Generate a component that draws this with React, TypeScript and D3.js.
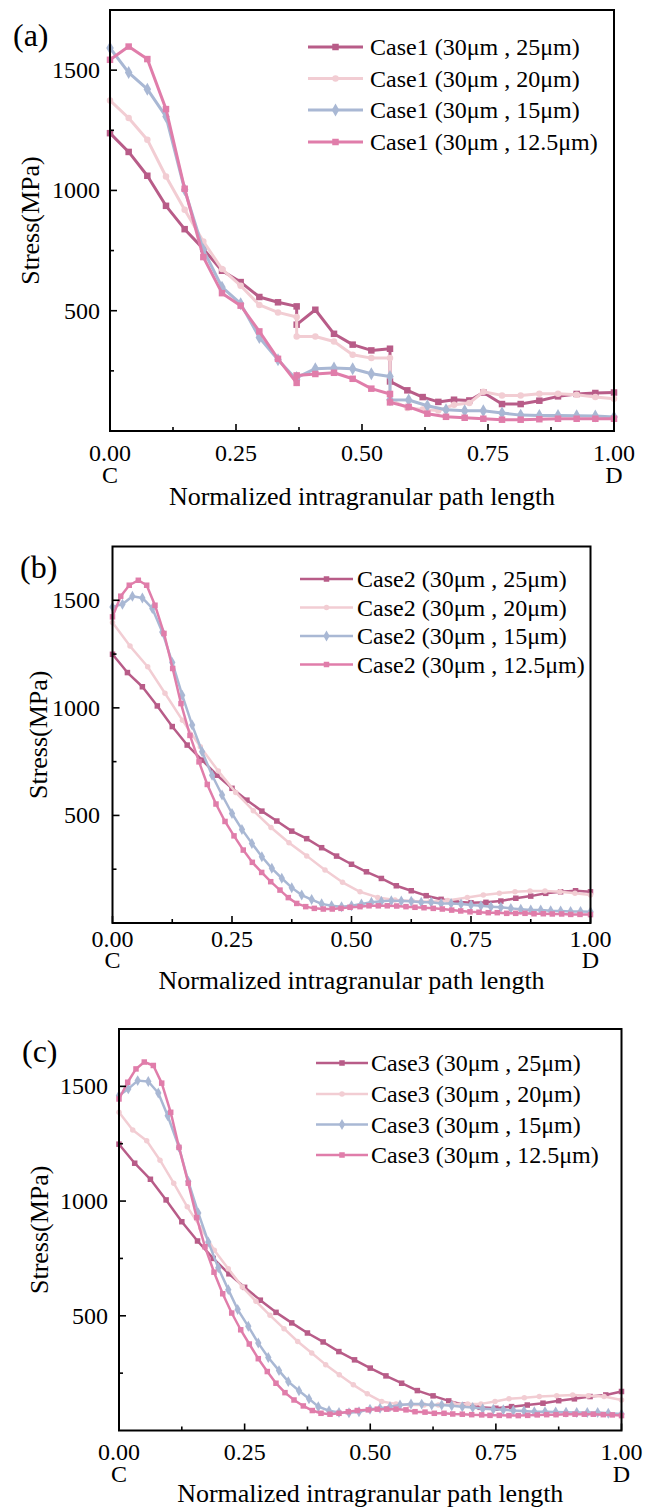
import React from 'react';
import * as d3 from 'd3';

// ---------- labels ----------
const CASES = ['Case1', 'Case2', 'Case3'];
const PANEL_TAGS = ['(a)', '(b)', '(c)'];
const GRAIN_SIZES = ['25μm', '20μm', '15μm', '12.5μm'];
const X_TICKS = [0, 0.25, 0.5, 0.75, 1];
const X_TICK_LABELS = ['0.00', '0.25', '0.50', '0.75', '1.00'];
const X_MINOR = [0.125, 0.375, 0.625, 0.875];
const Y_TICKS = [500, 1000, 1500];
const Y_MINOR = [250, 750, 1250];
const Y_DOMAIN = [0, 1750];
const PATH_ENDS = ['C', '', '', '', 'D'];
const X_TITLE = 'Normalized intragranular path length';
const Y_TITLE = 'Stress(MPa)';

// ---------- panel (a): node positions in 1/27 of the path ----------
const A_POS_FINE = [0, 1, 2, 3, 4, 5, 6, 7, 8, 9, 10, 10, 11, 12, 13, 14, 15, 15, 16, 17, 18, 19, 20, 21, 22, 23, 24, 25, 26, 27];
const A_POS_COARSE = [0, 1, 2, 3, 4, 5, 6, 7, 8, 9, 10, 10, 11, 12, 13, 14, 15, 15, 15.93, 16.75, 17.59, 18.43, 19.25, 20, 21, 22, 23, 24, 25, 26, 27];
const A_25 = [1238, 1160, 1061, 936, 839, 757, 666, 619, 557, 535, 518, 442, 504, 404, 359, 335, 342, 206, 169, 141, 121, 130, 127, 160, 112, 112, 126, 144, 154, 158, 160];
const A_20 = [1374, 1301, 1211, 1058, 920, 788, 673, 604, 524, 493, 474, 393, 393, 372, 317, 303, 303, 130, 96, 89, 85, 109, 116, 163, 148, 148, 155, 155, 151, 141, 134];
const A_15 = [1592, 1490, 1421, 1307, 1003, 753, 598, 529, 389, 296, 213, 222, 259, 262, 259, 238, 227, 130, 129, 105, 88, 84, 84, 75, 66, 64, 64, 63, 62, 58];
const A_125 = [1543, 1598, 1546, 1338, 1007, 723, 573, 521, 414, 300, 200, 231, 237, 242, 217, 176, 154, 119, 100, 72, 59, 55, 51, 47, 47, 49, 51, 51, 51, 51];

// ---------- panel (b) ----------
const B_25 = [1249, 1164, 1098, 1009, 913, 827, 757, 687, 626, 571, 520, 474, 427, 392, 350, 311, 273, 238, 207, 173, 150, 127, 110, 99, 94, 96, 102, 115, 125, 138, 145, 150, 145];
const B_20_X = [0, 0.0366, 0.0736, 0.1098, 0.1464, 0.1837, 0.2213, 0.2577, 0.2946, 0.3316, 0.3692, 0.4063, 0.4446, 0.4812, 0.5178, 0.5548, 0.591, 0.6272, 0.6642, 0.7013, 0.7423, 0.7757, 0.8092, 0.8421, 0.8734, 0.9048, 0.9362, 0.9676, 1];
const B_20 = [1397, 1287, 1191, 1068, 942, 819, 706, 607, 522, 444, 373, 312, 246, 189, 145, 119, 107, 102, 99, 105, 119, 130, 138, 145, 149, 149, 145, 138, 130];
const B_15 = [1469, 1482, 1519, 1511, 1462, 1353, 1211, 1059, 920, 796, 687, 595, 509, 435, 370, 308, 254, 208, 164, 130, 109, 89, 80, 76, 80, 88, 96, 101, 104, 102, 101, 96, 96, 91, 91, 88, 84, 80, 76, 73, 68, 64, 60, 60, 57, 56, 54, 54, 52];
const B_125_X = [0, 0.0172, 0.0351, 0.054, 0.0715, 0.0889, 0.1077, 0.1259, 0.1433, 0.1621, 0.181, 0.1983, 0.2165, 0.2354, 0.2542, 0.2736, 0.2925, 0.3121, 0.331, 0.3504, 0.3678, 0.3854, 0.4042, 0.4222, 0.441, 0.4598, 0.478, 0.4969, 0.5178, 0.5366, 0.5561, 0.5749, 0.5946, 0.614, 0.6328, 0.6517, 0.6711, 0.69, 0.7096, 0.7285, 0.7479, 0.7667, 0.7862, 0.805, 0.8247, 0.8435, 0.863, 0.8818, 0.9013, 0.9201, 0.9397, 0.9586, 0.978, 1];
const B_125 = [1423, 1519, 1570, 1593, 1570, 1477, 1346, 1183, 1020, 872, 749, 644, 553, 472, 405, 339, 282, 235, 192, 153, 118, 91, 76, 68, 65, 65, 68, 73, 76, 80, 80, 80, 79, 76, 73, 71, 68, 65, 60, 56, 52, 50, 48, 48, 45, 45, 45, 43, 43, 42, 42, 40, 40, 39];

// ---------- panel (c) ----------
const C_25 = [1248, 1165, 1095, 1005, 910, 826, 750, 683, 624, 568, 515, 469, 425, 386, 344, 308, 272, 238, 206, 174, 151, 129, 111, 101, 97, 104, 111, 119, 130, 138, 148, 155, 170];
const C_20_X = [0, 0.0273, 0.0551, 0.0816, 0.1089, 0.1359, 0.1626, 0.1897, 0.2175, 0.2454, 0.2726, 0.3005, 0.3284, 0.3556, 0.3835, 0.4113, 0.4384, 0.4663, 0.4941, 0.5228, 0.5512, 0.5791, 0.607, 0.6354, 0.6653, 0.6939, 0.7204, 0.7483, 0.7761, 0.8066, 0.8364, 0.871, 0.9029, 0.9339, 0.9652, 1];
const C_20 = [1387, 1310, 1263, 1178, 1078, 975, 884, 786, 705, 626, 563, 502, 444, 388, 338, 287, 243, 199, 160, 126, 116, 111, 111, 111, 116, 115, 116, 126, 138, 143, 148, 152, 155, 151, 148, 133];
const C_15_X = [0, 0.0185, 0.0372, 0.0583, 0.0782, 0.0969, 0.1194, 0.1379, 0.1578, 0.1777, 0.1976, 0.2175, 0.2362, 0.2573, 0.2772, 0.2971, 0.3184, 0.3369, 0.3582, 0.3781, 0.3966, 0.4179, 0.4378, 0.4577, 0.4776, 0.4995, 0.5194, 0.5393, 0.5592, 0.5811, 0.6024, 0.6223, 0.6422, 0.6621, 0.6832, 0.7039, 0.7238, 0.7449, 0.7648, 0.7847, 0.806, 0.8265, 0.8478, 0.869, 0.8896, 0.9109, 0.9319, 0.9526, 0.9737, 1];
const C_15 = [1460, 1489, 1525, 1521, 1471, 1372, 1234, 1086, 948, 822, 709, 614, 527, 454, 381, 318, 261, 213, 173, 138, 104, 86, 79, 77, 82, 93, 97, 104, 111, 116, 115, 111, 111, 108, 104, 100, 95, 93, 90, 87, 85, 82, 82, 81, 80, 78, 78, 78, 75, 72];
const C_125_X = [0, 0.0173, 0.0338, 0.0503, 0.0683, 0.085, 0.1029, 0.1194, 0.1379, 0.1546, 0.1711, 0.1891, 0.2064, 0.2243, 0.2422, 0.2593, 0.2772, 0.2951, 0.3124, 0.3303, 0.3483, 0.3668, 0.3847, 0.402, 0.4199, 0.4378, 0.4563, 0.4742, 0.4961, 0.514, 0.5327, 0.5512, 0.5711, 0.5891, 0.609, 0.6275, 0.6468, 0.6641, 0.6832, 0.7019, 0.7218, 0.7383, 0.7568, 0.7761, 0.7946, 0.8133, 0.8324, 0.8511, 0.8697, 0.8889, 0.9075, 0.926, 0.9439, 0.9638, 0.9817, 1];
const C_125 = [1445, 1518, 1576, 1606, 1591, 1514, 1387, 1234, 1078, 928, 801, 690, 596, 512, 439, 377, 313, 257, 206, 165, 133, 107, 87, 75, 71, 75, 82, 87, 90, 93, 93, 93, 90, 82, 80, 75, 75, 72, 71, 69, 68, 66, 66, 65, 65, 66, 68, 69, 69, 71, 71, 71, 71, 69, 68, 65];

// ---------- styles ----------
const FONT = 'Liberation Serif, Times New Roman, Times, serif';
const COLORS = ['#B85C88', '#F2CDD3', '#A9B8D4', '#E07DAA'];
const SHAPES = [d3.symbolSquare, d3.symbolCircle, d3.symbolDiamond, d3.symbolSquare];

const uniform = (n: number) => d3.range(n).map((i) => i / (n - 1));
const per27 = (a: number[]) => a.map((v) => v / 27);

const PANEL_DATA = [
  [
    { x: per27(A_POS_COARSE), y: A_25 },
    { x: per27(A_POS_COARSE), y: A_20 },
    { x: per27(A_POS_FINE), y: A_15 },
    { x: per27(A_POS_FINE), y: A_125 },
  ],
  [
    { x: uniform(B_25.length), y: B_25 },
    { x: B_20_X, y: B_20 },
    { x: uniform(B_15.length), y: B_15 },
    { x: B_125_X, y: B_125 },
  ],
  [
    { x: uniform(C_25.length), y: C_25 },
    { x: C_20_X, y: C_20 },
    { x: C_15_X, y: C_15 },
    { x: C_125_X, y: C_125 },
  ],
];

const LAYOUTS = [
  { left: 110, right: 614, top: 10, bottom: 431, lw: 3, mk: 6.5, tagX: 13, tagY: 46, tickBase: 461, endGap: 22, titleBase: 505, yLabX: 100, yTitleX: 38.5,
    leg: { x1: 308, x2: 363, tx: 370, rows: [47, 78.5, 110, 142] } },
  { left: 112.5, right: 590.5, top: 546.5, bottom: 923, lw: 2.5, mk: 5.5, tagX: 20, tagY: 578, tickBase: 947, endGap: 21, titleBase: 989, yLabX: 100, yTitleX: 47,
    leg: { x1: 300, x2: 353, tx: 357, rows: [579, 607.5, 636, 664.5] } },
  { left: 119, right: 621.5, top: 1029, bottom: 1430.5, lw: 2.5, mk: 5.5, tagX: 22, tagY: 1062, tickBase: 1460, endGap: 21.5, titleBase: 1501.5, yLabX: 108, yTitleX: 48,
    leg: { x1: 316, x2: 368, tx: 371, rows: [1063, 1094, 1124.5, 1155] } },
];

function markerPath(k: number, s: number) {
  const shape = SHAPES[k];
  let area = s * s;
  if (shape === d3.symbolCircle) area = (Math.PI * s * s) / 4;
  if (shape === d3.symbolDiamond) area = s * s * 1.15;
  return d3.symbol(shape, area)() as string;
}

function Panel({ idx }: { idx: number }) {
  const L = LAYOUTS[idx];
  const data = PANEL_DATA[idx];
  const x = d3.scaleLinear().domain([0, 1]).range([L.left, L.right]);
  const y = d3.scaleLinear().domain(Y_DOMAIN).range([L.bottom, L.top]);
  const line = d3
    .line<[number, number]>()
    .x((d) => x(d[0]))
    .y((d) => y(d[1]));
  const major = 7;
  const minor = 4;
  return (
    <g>
      {data.map((s, k) => {
        const pts = s.y.map((v, i) => [s.x[i], v] as [number, number]);
        const mp = markerPath(k, L.mk);
        return (
          <g key={k}>
            <path d={line(pts) as string} fill="none" stroke={COLORS[k]} strokeWidth={L.lw} strokeLinejoin="round" />
            {pts.map((p, i) => (
              <path key={i} d={mp} transform={`translate(${x(p[0])},${y(p[1])})`} fill={COLORS[k]} />
            ))}
          </g>
        );
      })}
      <rect x={L.left} y={L.top} width={L.right - L.left} height={L.bottom - L.top} fill="none" stroke="#000" strokeWidth={2} />
      {X_TICKS.map((t, i) => (
        <g key={'xt' + i}>
          <line x1={x(t)} x2={x(t)} y1={L.bottom} y2={L.bottom - major} stroke="#000" strokeWidth={1.6} />
          <text x={x(t)} y={L.tickBase} textAnchor="middle" fontSize={24} fontFamily={FONT}>
            <tspan x={x(t)}>{X_TICK_LABELS[i]}</tspan>
            {PATH_ENDS[i] ? (
              <tspan x={x(t)} dy={L.endGap}>
                {PATH_ENDS[i]}
              </tspan>
            ) : null}
          </text>
        </g>
      ))}
      {X_MINOR.map((t, i) => (
        <line key={'xm' + i} x1={x(t)} x2={x(t)} y1={L.bottom} y2={L.bottom - minor} stroke="#000" strokeWidth={1.6} />
      ))}
      {Y_TICKS.map((t, i) => (
        <g key={'yt' + i}>
          <line x1={L.left} x2={L.left + major} y1={y(t)} y2={y(t)} stroke="#000" strokeWidth={1.6} />
          <text x={L.yLabX} y={y(t) + 8} textAnchor="end" fontSize={24} fontFamily={FONT}>
            {t}
          </text>
        </g>
      ))}
      {Y_MINOR.map((t, i) => (
        <line key={'ym' + i} x1={L.left} x2={L.left + minor} y1={y(t)} y2={y(t)} stroke="#000" strokeWidth={1.6} />
      ))}
      <text x={(L.left + L.right) / 2} y={L.titleBase} textAnchor="middle" fontSize={26} fontFamily={FONT}>
        {X_TITLE}
      </text>
      <text
        transform={`translate(${L.yTitleX},${(L.top + L.bottom) / 2}) rotate(-90)`}
        textAnchor="middle"
        fontSize={26}
        fontFamily={FONT}
      >
        {Y_TITLE}
      </text>
      <text x={L.tagX} y={L.tagY} fontSize={32} fontFamily={FONT}>
        {PANEL_TAGS[idx]}
      </text>
      {GRAIN_SIZES.map((g, k) => {
        const ry = L.leg.rows[k];
        const mx = (L.leg.x1 + L.leg.x2) / 2;
        return (
          <g key={'lg' + k}>
            <line x1={L.leg.x1} x2={L.leg.x2} y1={ry} y2={ry} stroke={COLORS[k]} strokeWidth={L.lw} />
            <path d={markerPath(k, L.mk)} transform={`translate(${mx},${ry})`} fill={COLORS[k]} />
            <text x={L.leg.tx} y={ry + 8.3} fontSize={24} fontFamily={FONT}>
              {`${CASES[idx]} (30μm , ${g})`}
            </text>
          </g>
        );
      })}
    </g>
  );
}

export default function App() {
  return (
    <svg
      width={658}
      height={1508}
      viewBox="0 0 658 1508"
      style={{ position: 'absolute', left: 0, top: 0, display: 'block', background: '#fff' }}
    >
      <rect x={0} y={0} width={658} height={1508} fill="#fff" />
      {[0, 1, 2].map((i) => (
        <Panel key={i} idx={i} />
      ))}
    </svg>
  );
}
